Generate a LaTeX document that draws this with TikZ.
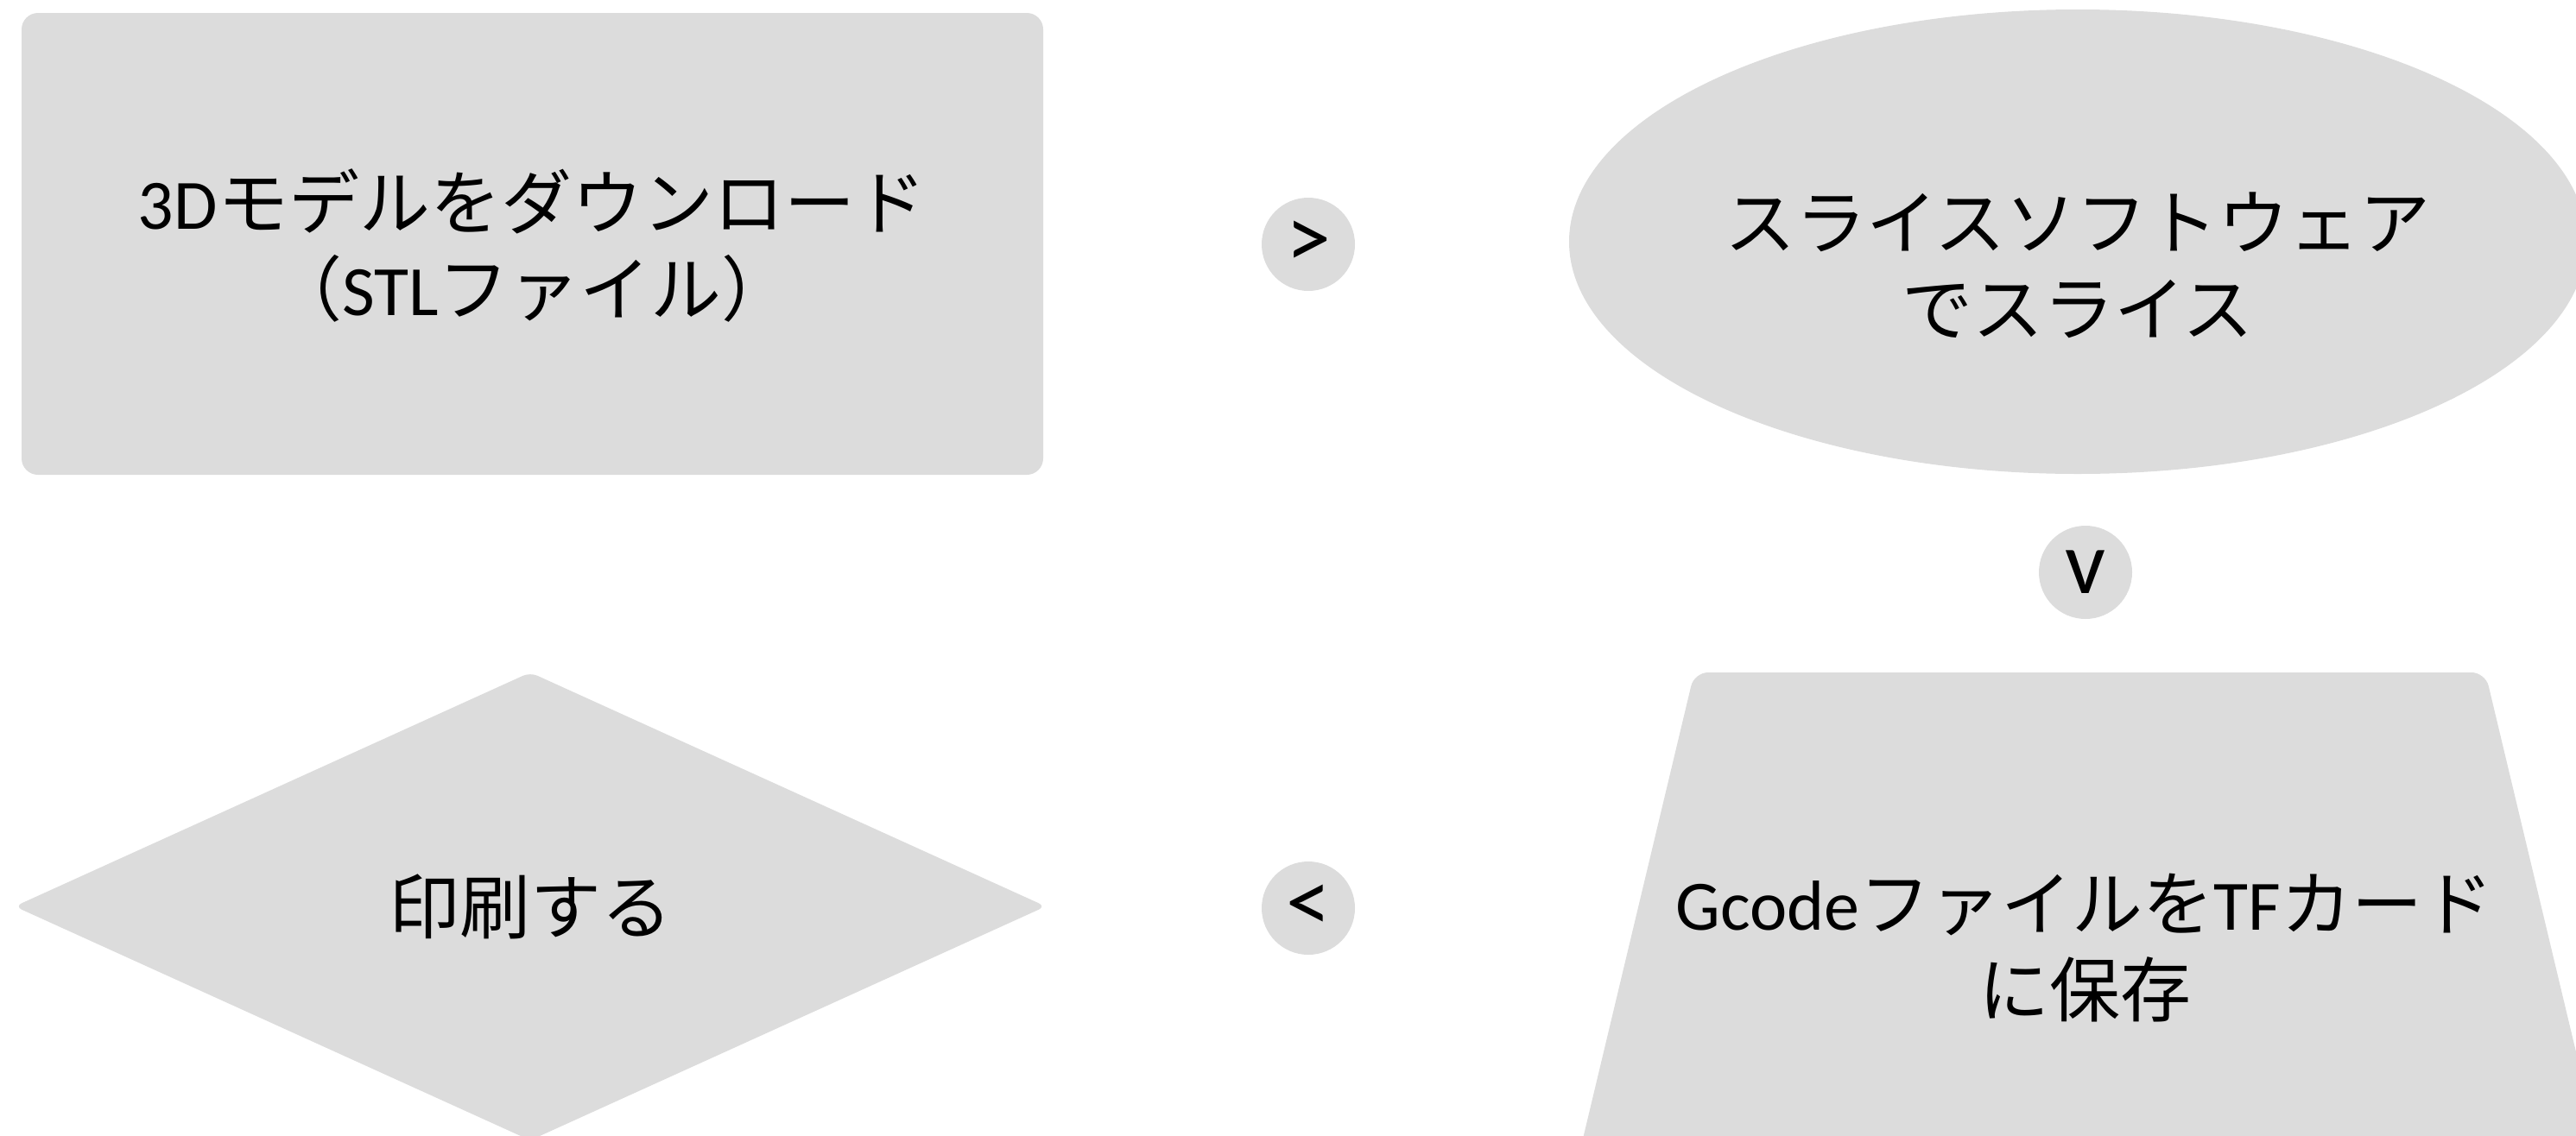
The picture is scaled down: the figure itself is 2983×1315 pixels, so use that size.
\documentclass[tikz,border=0pt]{standalone}
\usepackage{fontspec}
\setmainfont{Carlito}
\newfontfamily\jp{Noto Sans CJK JP}
\usetikzlibrary{shapes.geometric}
\definecolor{shapegray}{HTML}{DCDCDC}
\begin{document}
\begin{tikzpicture}[x=1pt,y=-1pt,
  lbl/.style={font=\fontsize{82}{100}\selectfont, align=center, inner sep=0pt, text=black},
  sym/.style={circle, fill=shapegray, minimum size=108pt, inner sep=0pt, font=\fontsize{104}{110}\selectfont},
  blob/.style={fill=shapegray}]
\useasboundingbox (0,0) rectangle (2983,1315);
% rectangle
\node[blob, rectangle, rounded corners=19pt, minimum width=1183pt, minimum height=535pt, inner sep=0pt] (download) at (616.5,282.5) {};
% ellipse
\node[blob, ellipse, minimum width=1178pt, minimum height=538pt, inner sep=0pt] (slice) at (2406,280) {};
% trapezoid
\coordinate (tzc) at (2420,1050);
\fill[shapegray, rounded corners=16pt] (1828,1340) -- (1962,779) -- (2878,779) -- (3012,1340) -- cycle;
% diamond
\coordinate (dmc) at (614,1050);
\fill[shapegray, rounded corners=9pt] (614,779) -- (1211,1050) -- (614,1321) -- (17,1050) -- cycle;
% symbols
\node[sym] (s1) at (1515,283) {>};
\node[sym] (s2) at (2415,663) {v};
\node[sym] (s3) at (1515,1052) {<};
% labels
\node[lbl] (t1) at (616,284) {3D{\jp モデルをダウンロード}\\{\jp （}STL{\jp ファイル）}};
\node[lbl] (t2) at (2406,307) {\jp スライスソフトウェア\\\jp でスライス};
\node[lbl] (t3) at (2414,1098) {Gcode{\jp ファイルを}TF{\jp カード}\\\jp に保存};
\node[lbl] (t4) at (614,1050) {\jp 印刷する};
\end{tikzpicture}
\end{document}
